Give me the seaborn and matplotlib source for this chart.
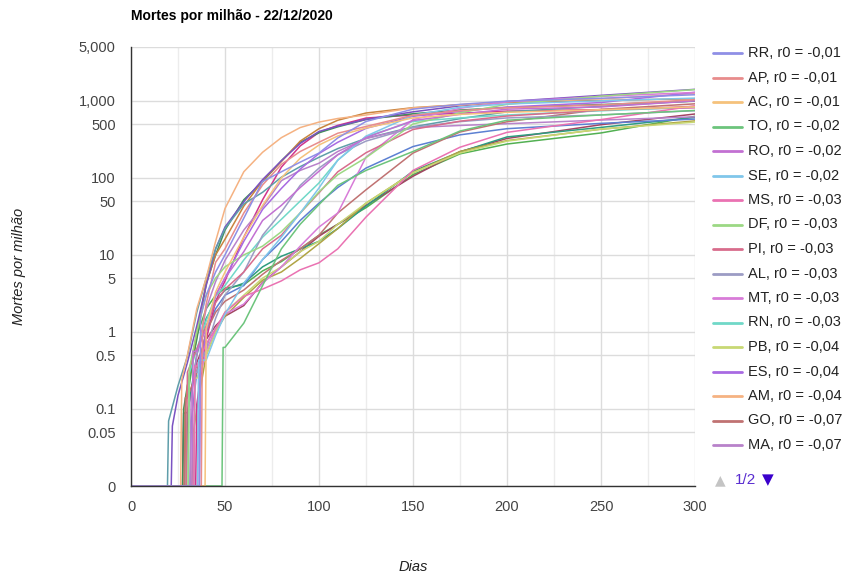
import pandas as pd
import matplotlib.pyplot as plt
from matplotlib.lines import Line2D
from matplotlib.ticker import NullLocator
import seaborn as sns

# dias da grade comum (contados a partir de 26/02/2020)
DIAS = [25, 30, 35, 40, 45, 50, 60, 70, 80, 90, 100, 110, 125, 150, 175, 200, 250, 300]

# mortes por milhão em cada dia da grade (0 = antes do primeiro óbito)
RR = [0, 0, 0, 3, 6, 10, 30, 90, 120, 160, 210, 330, 540, 780, 900, 990, 1080, 1200]
AP = [0, 0, 0, 2.3, 8, 12, 35, 81, 150, 220, 290, 380, 465, 650, 744, 815, 884, 1035]
AC = [0, 0, 0, 0, 3.3, 6, 17, 44, 100, 180, 267, 350, 444, 600, 667, 710, 767, 835]
TO = [0, 0, 0, 0, 0, 0.63, 1.3, 4, 12, 25, 45, 80, 125, 220, 406, 560, 656, 750]
RO = [0, 0, 0.56, 1.1, 3, 5, 11, 28, 44, 75, 122, 200, 333, 555, 667, 780, 833, 1000]
SE = [0, 0, 0, 0.43, 0.9, 1.7, 4.3, 8.7, 17, 35, 74, 170, 348, 650, 826, 910, 1000, 1085]
MS = [0, 0, 0.36, 0.7, 1.1, 1.8, 2.9, 3.6, 4.6, 6.4, 7.9, 12, 31, 125, 250, 390, 571, 860]
DF = [0, 0, 1, 3, 5, 7, 10, 13, 20, 35, 66, 110, 183, 500, 700, 900, 1150, 1400]
PI = [0, 0, 0.6, 1.2, 2.4, 3.6, 6, 12, 18, 35, 64, 120, 212, 425, 545, 635, 758, 850]
AL = [0, 0, 0.3, 0.6, 1.5, 3, 6, 18, 36, 80, 134, 200, 300, 450, 537, 600, 657, 745]
MT = [0, 0, 0, 0.57, 1.1, 1.7, 2.3, 4.3, 7, 13, 23, 35, 186, 570, 800, 970, 1143, 1285]
RN = [0, 0, 0.6, 1.4, 2.9, 4, 8.6, 17, 29, 50, 86, 170, 343, 540, 600, 655, 743, 830]
PB = [0, 0, 0.25, 0.5, 1, 1.8, 3, 5, 7, 11, 15, 25, 47, 117, 210, 300, 430, 530]
ES = [0, 0, 0, 1, 3, 5, 15, 39, 73, 130, 207, 290, 440, 630, 731, 830, 950, 1290]
AM = [0, 0.5, 2, 5, 15, 40, 120, 215, 333, 450, 530, 590, 655, 810, 880, 975, 1060, 1240]
GO = [0, 0.14, 0.3, 1, 1.8, 2.5, 3.5, 5.6, 8.5, 12, 18, 35, 70, 210, 394, 535, 775, 915]
MA = [0, 0, 0.5, 2, 4.5, 8.5, 21, 42, 92, 125, 155, 220, 324, 450, 479, 505, 563, 620]
SP = [0.2, 0.48, 1.8, 5, 12, 22, 46, 65, 102, 140, 185, 240, 326, 460, 587, 720, 848, 1000]
RJ = [0.15, 0.4, 1.2, 4, 12, 23, 49, 95, 167, 280, 400, 470, 575, 720, 862, 980, 1178, 1410]
CE = [0, 0.2, 1, 4.3, 10, 16, 43, 92, 163, 300, 435, 560, 695, 815, 891, 955, 1010, 1065]
PE = [0, 0.2, 0.8, 4.2, 10, 21, 52, 89, 167, 290, 385, 460, 573, 680, 760, 820, 895, 990]
PA = [0, 0, 0, 0.8, 2.5, 4.6, 17, 52, 138, 260, 390, 480, 598, 655, 690, 735, 770, 815]
BA = [0, 0, 0.3, 1, 2, 3, 4, 8.7, 15, 28, 47, 75, 134, 255, 362, 435, 510, 580]
MG = [0, 0, 0.1, 0.5, 1, 1.6, 2.8, 4.7, 6, 9, 14, 22, 47, 117, 220, 305, 428, 550]
PR = [0, 0, 0.5, 1.5, 2.5, 3.5, 4.3, 7, 9.6, 12, 15, 22, 43, 122, 217, 340, 452, 610]
RS = [0, 0.09, 0.4, 0.8, 1.2, 1.6, 2.2, 4.4, 7, 11, 17.5, 25, 44, 105, 219, 325, 490, 675]
SC = [0, 0.14, 0.9, 2, 3, 3.7, 4.1, 6.2, 8.2, 12, 18, 25, 41, 110, 205, 275, 383, 630]

ESTADOS = ["RR", "AP", "AC", "TO", "RO", "SE", "MS", "DF", "PI", "AL", "MT", "RN",
           "PB", "ES", "AM", "GO", "MA", "SP", "RJ", "CE", "PE", "PA", "BA", "MG",
           "PR", "RS", "SC"]
R0 = ["-0,01", "-0,01", "-0,01", "-0,02", "-0,02", "-0,02", "-0,03", "-0,03", "-0,03",
      "-0,03", "-0,03", "-0,03", "-0,04", "-0,04", "-0,04", "-0,07", "-0,07"]
# dia do primeiro óbito e valor nesse dia
INICIO = [37, 38, 40, 49, 33, 36, 34, 31, 30, 34, 37, 31, 34, 36, 27, 29, 32,
          20, 22, 29, 28, 35, 32, 33, 30, 28, 29]
PRIMEIRO = [1.6, 1.16, 1.1, 0.63, 0.56, 0.43, 0.36, 0.33, 0.3, 0.3, 0.29, 0.29, 0.25,
            0.24, 0.24, 0.14, 0.14, 0.07, 0.06, 0.11, 0.1, 0.115, 0.067, 0.047, 0.087,
            0.088, 0.14]
CORES = ["#8f8fe6", "#e88c8c", "#f5c27c", "#6cc47c", "#c270d2", "#80c6ea", "#ea72b2",
         "#9cd884", "#d86c8c", "#9c9cc4", "#d87cd8", "#70d8c8", "#c8d874", "#a86ae2",
         "#f5b282", "#c07272", "#b882ca", "#5f9eaa", "#7a52c2", "#c8843e", "#40905a",
         "#d0348c", "#5c80d2", "#b0a444", "#2e9c80", "#a24462", "#52b052"]

VALORES = dict(zip(ESTADOS, [RR, AP, AC, TO, RO, SE, MS, DF, PI, AL, MT, RN, PB, ES,
                             AM, GO, MA, SP, RJ, CE, PE, PA, BA, MG, PR, RS, SC]))
PISO = 0.01  # posição do "0" no eixo log

linhas = []
for est, ini, p0 in zip(ESTADOS, INICIO, PRIMEIRO):
    pontos = [(0, 0), (ini - 0.6, 0), (ini, p0)]
    pontos += [(d, v) for d, v in zip(DIAS, VALORES[est]) if d > ini]
    for d, v in pontos:
        linhas.append({"estado": est, "dia": d, "valor": max(v, PISO)})
df = pd.DataFrame(linhas)

sns.set_style("white")
plt.rcParams["font.family"] = ["Liberation Sans", "DejaVu Sans"]

W, H = 848, 578
fig = plt.figure(figsize=(W / 100, H / 100), dpi=100)
ax = fig.add_axes([131 / W, 1 - 486 / H, 564 / W, 439 / H])

paleta = dict(zip(ESTADOS, CORES))
sns.lineplot(data=df, x="dia", y="valor", hue="estado", hue_order=ESTADOS[::-1],
             palette=paleta, estimator=None, sort=False, legend=False,
             linewidth=1.1, ax=ax)

ax.set_yscale("log")
ax.set_ylim(PISO, 5000)
ax.set_xlim(0, 300)
yt = [PISO, 0.05, 0.1, 0.5, 1, 5, 10, 50, 100, 500, 1000, 5000]
ax.set_yticks(yt)
ax.set_yticklabels(["0", "0.05", "0.1", "0.5", "1", "5", "10", "50", "100", "500",
                    "1,000", "5,000"])
ax.yaxis.set_minor_locator(NullLocator())
ax.set_xticks(range(0, 301, 50))
ax.set_xticks(range(25, 300, 50), minor=True)
ax.grid(which="major", color="#dcdcdc", lw=1)
ax.grid(which="minor", axis="x", color="#ececec", lw=1)
ax.set_axisbelow(True)
ax.tick_params(axis="both", which="both", length=0, labelsize=10.5, colors="#444444")
ax.tick_params(axis="y", pad=11)
ax.tick_params(axis="x", pad=10)
for s in ["top", "right"]:
    ax.spines[s].set_visible(False)
for s in ["left", "bottom"]:
    ax.spines[s].set_color("#333333")
    ax.spines[s].set_linewidth(1)

ax.set_xlabel("Dias", fontsize=10.5, style="italic", color="#222222")
ax.set_ylabel("Mortes por milhão", fontsize=10.5, style="italic", color="#222222")
ax.xaxis.set_label_coords(0.5, (486 - 560) / 439)
ax.yaxis.set_label_coords((26 - 131) / 564, 0.5)

fig.text(131 / W, 1 - 16 / H, "Mortes por milhão - 22/12/2020", fontsize=10,
         fontweight="bold", va="center", ha="left", color="#000000")

# legenda (página 1 de 2)
for i in range(17):
    y = 1 - (53 + 24.5 * i) / H
    fig.add_artist(Line2D([713 / W, 742 / W], [y, y], color=CORES[i], lw=2,
                          transform=fig.transFigure))
    fig.text(748 / W, y, f"{ESTADOS[i]}, r0 = {R0[i]}", fontsize=10.5,
             va="center", ha="left", color="#222222")

yp = 1 - 480 / H
fig.text(720 / W, yp, "▲", fontsize=10, color="#c4c4c4", ha="center", va="center",
         family=["DejaVu Sans"])
fig.text(745 / W, yp, "1/2", fontsize=11, color="#5a2ed0", ha="center", va="center")
fig.text(768 / W, yp, "▼", fontsize=11, color="#3a00cc", ha="center", va="center",
         family=["DejaVu Sans"])

fig.savefig("out.png", dpi=100)
